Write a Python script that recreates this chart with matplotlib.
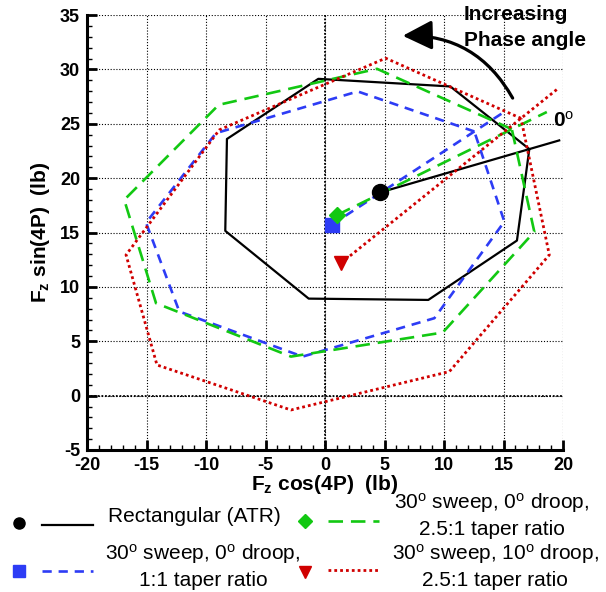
import matplotlib
matplotlib.use("Agg")
import matplotlib.pyplot as plt
from matplotlib.lines import Line2D
from matplotlib.patches import ArrowStyle
import numpy as np

plt.rcParams['font.family'] = ['Liberation Sans', 'DejaVu Sans']
plt.rcParams['mathtext.fontset'] = 'custom'
plt.rcParams['mathtext.rm'] = 'Liberation Sans'
plt.rcParams['mathtext.it'] = 'Liberation Sans:italic'
plt.rcParams['mathtext.bf'] = 'Liberation Sans:bold'

# Harmonic load loci: eight phase points each, first point is 0 deg phase
rect_x = [17.17, 10.53, -0.56, -8.24, -8.38, -1.37, 8.68, 16.13]
rect_y = [22.67, 28.43, 29.13, 23.60, 15.15, 8.92, 8.80, 14.26]
rect_center = [4.62, 18.68]

taper1_x = [12.55, 2.75, -9.16, -15.04, -12.24, -1.88, 9.19, 15.07]
taper1_y = [24.29, 27.97, 24.14, 15.90, 7.73, 3.59, 7.12, 16.00]
taper1_center = [0.59, 15.73]

taper25_x = [15.70, 4.37, -8.93, -16.87, -14.20, -2.86, 9.89, 17.59]
taper25_y = [24.50, 30.05, 26.74, 18.00, 8.50, 3.59, 5.80, 15.06]
taper25_center = [1.00, 16.60]

droop_x = [16.47, 5.10, -8.88, -16.72, -14.12, -2.86, 10.45, 18.85]
droop_y = [25.50, 31.03, 24.44, 12.94, 2.82, -1.32, 2.21, 12.94]
droop_center = [1.34, 12.18]

x_ticks = [-20, -15, -10, -5, 0, 5, 10, 15, 20]
y_ticks = [-5, 0, 5, 10, 15, 20, 25, 30, 35]

DEG = r'$^{\mathrm{o}}$'
labels = {
    'rect': 'Rectangular (ATR)',
    'taper1': f'30{DEG} sweep, 0{DEG} droop,\n1:1 taper ratio',
    'taper25': f'30{DEG} sweep, 0{DEG} droop,\n2.5:1 taper ratio',
    'droop': f'30{DEG} sweep, 10{DEG} droop,\n2.5:1 taper ratio',
}

GREEN = '#12c812'
BLUE = '#2d3cf5'
RED = '#d00000'

series = [
    dict(key='rect', x=rect_x, y=rect_y, c=rect_center, color='black',
         ls='-', dashes=None, lw=1.6, marker='o', ms=11.5),
    dict(key='taper1', x=taper1_x, y=taper1_y, c=taper1_center, color=BLUE,
         ls='--', dashes=(3.5, 2.6), lw=1.9, marker='s', ms=10),
    dict(key='taper25', x=taper25_x, y=taper25_y, c=taper25_center, color=GREEN,
         ls='--', dashes=(5.5, 3.0), lw=1.9, marker='D', ms=8.5),
    dict(key='droop', x=droop_x, y=droop_y, c=droop_center, color=RED,
         ls=':', dashes=(1.0, 1.1), lw=2.0, marker='v', ms=10.5),
]

W, H = 606, 592
fig = plt.figure(figsize=(W / 100, H / 100), dpi=100)
ax = fig.add_axes([87 / W, 1 - 450 / H, 476 / W, 435 / H])


def style_kw(s):
    kw = dict(color=s['color'], lw=s['lw'], linestyle=s['ls'])
    if s['dashes'] is not None:
        kw['dashes'] = s['dashes']
    return kw


for s in series:
    xs = np.append(s['x'], s['x'][0])
    ys = np.append(s['y'], s['y'][0])
    ax.plot(xs, ys, zorder=3, **style_kw(s))
    # ray from the mean point through the 0 deg phase point
    cx, cy = s['c']
    ex = cx + 1.2 * (s['x'][0] - cx)
    ey = cy + 1.2 * (s['y'][0] - cy)
    ax.plot([cx, ex], [cy, ey], zorder=3, **style_kw(s))

for s in series:
    cx, cy = s['c']
    ax.plot(cx, cy, marker=s['marker'], ms=s['ms'], color=s['color'],
            mec=s['color'], ls='none', zorder=5)

ax.set_xlim(-20, 20)
ax.set_ylim(-5, 35)
ax.set_xticks(x_ticks)
ax.set_yticks(y_ticks)
ax.set_xticks(np.arange(-20, 21, 1), minor=True)
ax.set_yticks(np.arange(-5, 36, 1), minor=True)
ax.set_xticklabels([str(v) for v in x_ticks], fontweight='bold', fontsize=13)
ax.set_yticklabels([str(v) for v in y_ticks], fontweight='bold', fontsize=13)
ax.tick_params(which='major', direction='in', length=7, width=2.0, pad=5,
               top=False, right=False)
ax.tick_params(which='minor', direction='in', length=3.8, width=1.0,
               top=False, right=False)

for side in ('top', 'right'):
    ax.spines[side].set_visible(False)
for side in ('left', 'bottom'):
    ax.spines[side].set_linewidth(2.2)

ax.grid(which='major', color='black', linestyle=(0, (1, 1.6)), linewidth=0.8,
        zorder=1)
ax.axhline(0, color='black', linestyle=(0, (1, 1)), linewidth=1.3, zorder=1)
ax.axvline(0, color='black', linestyle=(0, (1, 1)), linewidth=1.3, zorder=1)
ax.set_axisbelow(True)

ax.set_xlabel(r'F$_{\mathbf{z}}$ cos(4P)  (lb)', fontweight='bold', fontsize=15,
              va='center')
ax.xaxis.set_label_coords(0.5, (450 - 484) / 435)
ax.set_ylabel(r'F$_{\mathbf{z}}$ sin(4P)  (lb)', fontweight='bold', fontsize=15,
              va='center')
ax.yaxis.set_label_coords((41 - 87) / 476, 0.5)

# phase-direction annotation
ax.text(11.68, 34.5, 'Increasing', fontweight='bold', fontsize=15,
        ha='left', va='baseline', clip_on=False)
ax.text(11.68, 32.17, 'Phase angle', fontweight='bold', fontsize=15,
        ha='left', va='baseline', clip_on=False)
ax.text(19.13, 24.75, f'0{DEG}', fontweight='bold', fontsize=15,
        ha='left', va='baseline', clip_on=False)
ax.annotate('', xy=(6.53, 33.09), xytext=(15.77, 27.36),
            arrowprops=dict(arrowstyle=ArrowStyle('-|>', head_length=1.0,
                                                  head_width=0.5),
                            mutation_scale=18, lw=2.3, color='black',
                            connectionstyle='arc3,rad=0.3',
                            shrinkA=0, shrinkB=0),
            annotation_clip=False)


# legend drawn in figure pixel coordinates
def fx(px):
    return px / W


def fy(py):
    return 1 - py / H


legend_layout = {
    'rect': dict(mx=19, my=523, ly=525, tx=108, ty=517, ha='left'),
    'taper25': dict(mx=305, my=521, ly=521, tx=492, ty=515, ha='center'),
    'taper1': dict(mx=19, my=571, ly=571, tx=203, ty=566, ha='center'),
    'droop': dict(mx=305, my=572, ly=570, tx=495, ty=566, ha='center'),
}
legend_ms = {'rect': 8, 'taper1': 8, 'taper25': 7, 'droop': 9}

for s in series:
    L = legend_layout[s['key']]
    x0 = 42 if L['mx'] < 100 else 328
    fig.add_artist(Line2D([fx(L['mx'])], [fy(L['my'])], marker=s['marker'],
                          ms=legend_ms[s['key']], color=s['color'],
                          ls='none', transform=fig.transFigure))
    fig.add_artist(Line2D([fx(x0), fx(x0 + 51)], [fy(L['ly'])] * 2,
                          transform=fig.transFigure, **style_kw(s)))
    fig.text(fx(L['tx']), fy(L['ty']), labels[s['key']], fontsize=15,
             ha=L['ha'], va='center', multialignment='center',
             linespacing=1.3)

fig.savefig('out.png', dpi=100)
